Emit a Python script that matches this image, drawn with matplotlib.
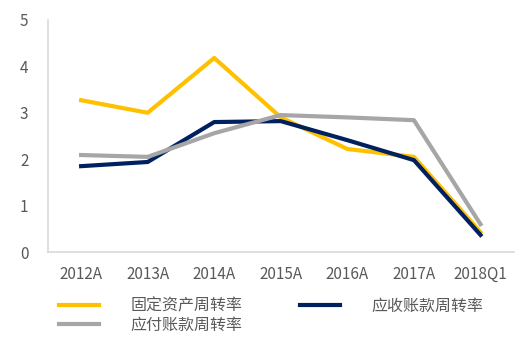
import matplotlib
matplotlib.use("Agg")
import matplotlib.pyplot as plt

plt.rcParams['font.family'] = ['Noto Sans CJK SC', 'DejaVu Sans']

# data
periods = ["2012A", "2013A", "2014A", "2015A", "2016A", "2017A", "2018Q1"]
fixed_asset_turnover = [3.27, 3.0, 4.18, 2.9, 2.22, 2.05, 0.43]
receivable_turnover = [1.85, 1.94, 2.8, 2.82, 2.41, 1.98, 0.37]
payable_turnover = [2.09, 2.05, 2.56, 2.95, 2.9, 2.84, 0.6]
labels = ["固定资产周转率", "应收账款周转率", "应付账款周转率"]

fig = plt.figure(figsize=(5.2, 3.37), dpi=100)
ax = fig.add_axes([0.092, 0.252, 0.896, 0.689])

x = range(len(periods))
l1, = ax.plot(x, fixed_asset_turnover, color="#FFC000", lw=3)
l2, = ax.plot(x, receivable_turnover, color="#002060", lw=3)
l3, = ax.plot(x, payable_turnover, color="#A6A6A6", lw=3)

ax.set_xlim(-0.5, len(periods) - 0.5)
ax.set_ylim(0, 5)
ax.set_xticks(list(x))
ax.set_xticklabels(periods)
ax.set_yticks(range(6))
ax.tick_params(length=0, colors="#595959", labelsize=11)
ax.tick_params(axis="x", pad=10)
ax.tick_params(axis="y", pad=14)
for side in ["top", "right"]:
    ax.spines[side].set_visible(False)
for side in ["left", "bottom"]:
    ax.spines[side].set_color("#D9D9D9")
    ax.spines[side].set_linewidth(1.2)

# matplotlib fills legend columns first, so reorder to get row-wise layout
leg = fig.legend([l1, l3, l2], [labels[0], labels[2], labels[1]],
                 loc="upper left", ncol=2,
                 bbox_to_anchor=(0.085, 0.16), frameon=False,
                 handlelength=2.5, handletextpad=2.0, columnspacing=3.6,
                 labelspacing=0.15, fontsize=11.5, labelcolor="#595959")

fig.savefig("out.png", dpi=100)
